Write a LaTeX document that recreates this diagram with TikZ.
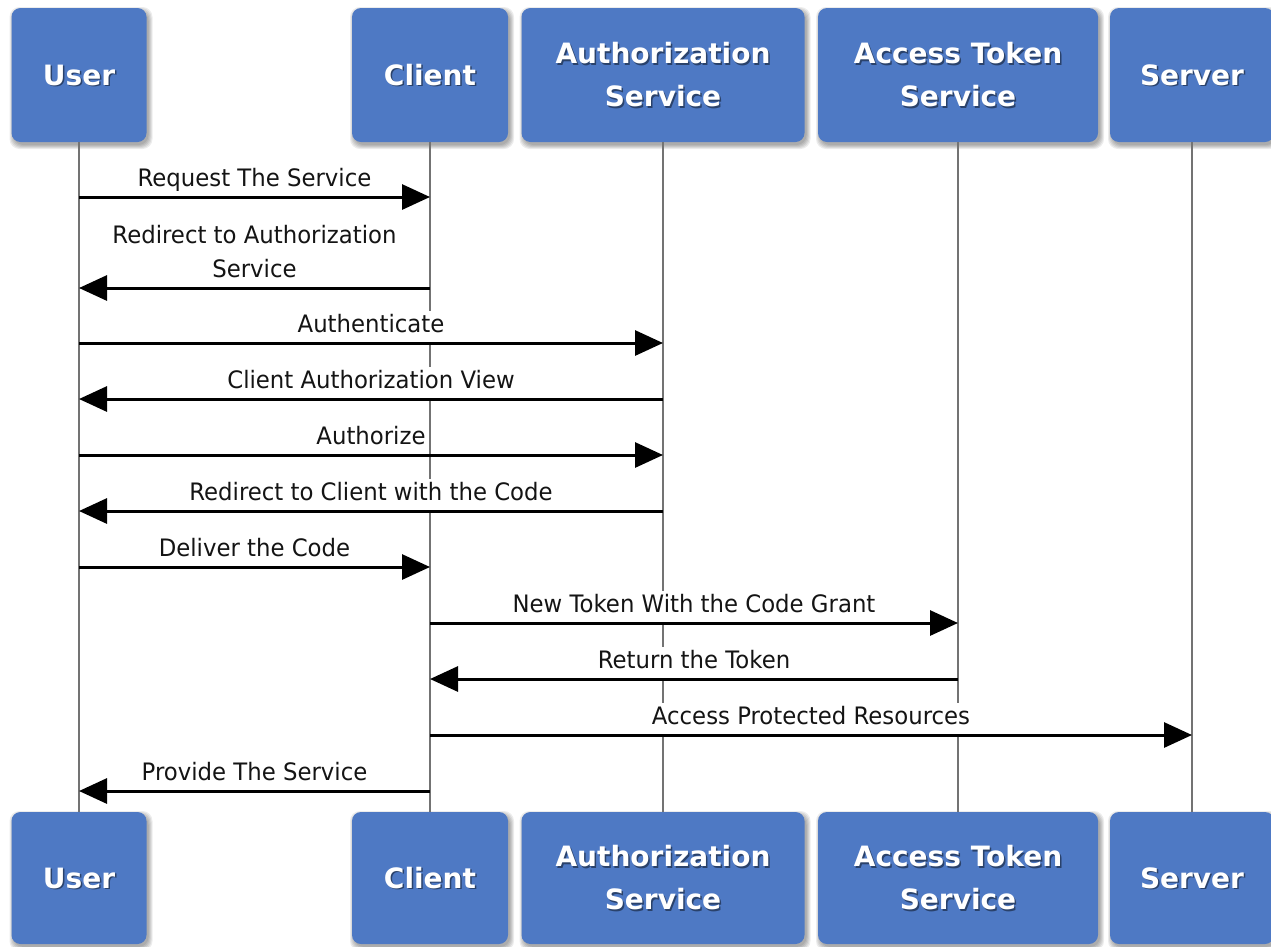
\documentclass[tikz,border=0pt]{standalone}
\usepackage{fontspec}
\newfontfamily\msgfont{DejaVu Sans}[FakeStretch=0.95]
\newfontfamily\actorfont{DejaVu Sans}
\usetikzlibrary{arrows.meta}
\definecolor{actorblue}{RGB}{78,121,196}
\definecolor{lifegray}{RGB}{115,115,115}
\tikzset{
  actorbox/.style={draw=none, fill=actorblue, rounded corners=9pt, inner sep=0pt},
  boxshade/.style={fill=black, opacity=0.075, rounded corners=10pt},
  actortext/.style={font=\actorfont\bfseries\fontsize{28}{43}\selectfont,
    align=center, text=white, inner sep=0pt},
  actorshade/.style={actortext, text=black, opacity=0.45},
  lifeline/.style={draw=lifegray, line width=2pt},
  msgarrow/.style={draw=black, line width=3pt, -{Triangle[length=28pt,width=25pt]}},
  msglabel/.style={font=\msgfont\fontsize{24}{34}\selectfont, text=black!92,
    fill=white, anchor=south, align=center, inner xsep=3pt, inner ysep=3pt,
    text depth=6pt},
}
% participant box: name, x, y, width, height, title
\newcommand\partbox[6]{%
  % soft shadow built from a few widening translucent layers
  \foreach \d in {0,1,2,3,4}{
    \fill[boxshade] ({#2-#4/2+2-\d},{#3-#5/2+3-\d}) rectangle ({#2+#4/2+2+\d},{#3+#5/2+3+\d});
  }
  \node[actorbox, minimum width=#4pt, minimum height=#5pt] (#1) at (#2,#3) {};
  \node[actorshade] (#1-shade) at ([shift={(1.5pt,-1.5pt)}]#1.center) {#6};
  \node[actortext] (#1-title) at (#1.center) {#6};}
% message between two lifelines: from, to, y, label
\newcommand\sendmsg[4]{%
  \draw[msgarrow] (#1.south |- 0,#3) -- node[msglabel] {#4} (#2.south |- 0,#3);}

\begin{document}
\begin{tikzpicture}[x=1pt, y=-1pt]
  \useasboundingbox (0,0) rectangle (1271,946);
  \fill[white] (0,0) rectangle (1271,946);

  % participants, top row
  \partbox{user}{79}{75}{135}{134}{User}
  \partbox{client}{430}{75}{156}{134}{Client}
  \partbox{auth}{663}{75}{283}{134}{Authorization\\Service}
  \partbox{token}{958}{75}{280}{134}{Access Token\\Service}
  \partbox{server}{1192}{75}{164}{134}{Server}

  % participants, bottom row
  \partbox{userB}{79}{878}{135}{132}{User}
  \partbox{clientB}{430}{878}{156}{132}{Client}
  \partbox{authB}{663}{878}{283}{132}{Authorization\\Service}
  \partbox{tokenB}{958}{878}{280}{132}{Access Token\\Service}
  \partbox{serverB}{1192}{878}{164}{132}{Server}

  % lifelines
  \draw[lifeline] (user.south) -- (userB.north);
  \draw[lifeline] (client.south) -- (clientB.north);
  \draw[lifeline] (auth.south) -- (authB.north);
  \draw[lifeline] (token.south) -- (tokenB.north);
  \draw[lifeline] (server.south) -- (serverB.north);

  % messages
  \sendmsg{user}{client}{197}{Request The Service}
  \sendmsg{client}{user}{288}{Redirect to Authorization\\Service}
  \sendmsg{user}{auth}{343}{Authenticate}
  \sendmsg{auth}{user}{399}{Client Authorization View}
  \sendmsg{user}{auth}{455}{Authorize}
  \sendmsg{auth}{user}{511}{Redirect to Client with the Code}
  \sendmsg{user}{client}{567}{Deliver the Code}
  \sendmsg{client}{token}{623}{New Token With the Code Grant}
  \sendmsg{token}{client}{679}{Return the Token}
  \sendmsg{client}{server}{735}{Access Protected Resources}
  \sendmsg{client}{user}{791}{Provide The Service}
\end{tikzpicture}
\end{document}
